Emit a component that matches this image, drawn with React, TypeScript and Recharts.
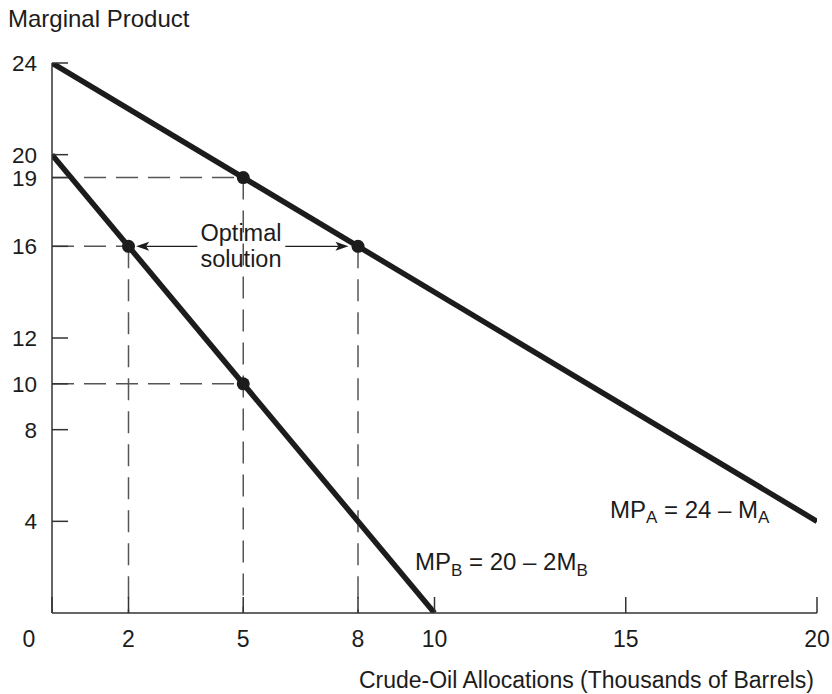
import {
  ComposedChart,
  Customized,
  Line,
  ReferenceLine,
  Scatter,
  XAxis,
  YAxis,
} from "recharts";

const xTicks = [0, 2, 5, 8, 10, 15, 20];
const yTicks = [4, 8, 10, 12, 16, 19, 20, 24];

// MP_A = 24 - M_A, MP_B = 20 - 2M_B (end points)
const mpA = [
  { x: 0, y: 24 },
  { x: 20, y: 4 },
];
const mpB = [
  { x: 0, y: 20 },
  { x: 10, y: 0 },
];

const points = [
  { x: 2, y: 16 },
  { x: 5, y: 19 },
  { x: 8, y: 16 },
  { x: 5, y: 10 },
];

// dashed guides: horizontal from the y axis, vertical down to the x axis
const guidesH = [
  { x: 5, y: 19 },
  { x: 2, y: 16 },
  { x: 5, y: 10 },
];
const guidesV = [
  { x: 2, y: 16 },
  { x: 5, y: 19 },
  { x: 8, y: 16 },
];

// arrows from the "Optimal solution" note to the two points
const arrows = [
  { from: 3.8, to: 2.2, y: 16 },
  { from: 6.1, to: 7.75, y: 16 },
];

const INK = "#1c1c1c";
const GUIDE = "#555";
const FONT = "'Liberation Sans', Arial, Helvetica, sans-serif";

const Arrow = (p: any) => {
  const { x1, y1, x2, y2 } = p;
  const dx = x2 - x1;
  const dy = y2 - y1;
  const len = Math.sqrt(dx * dx + dy * dy) || 1;
  const ux = dx / len;
  const uy = dy / len;
  const bx = x2 - ux * 13;
  const by = y2 - uy * 13;
  const nx = x2 - ux * 10;
  const ny = y2 - uy * 10;
  return (
    <g>
      <line x1={x1} y1={y1} x2={nx} y2={ny} stroke={INK} strokeWidth={1.4} />
      <polygon
        points={`${x2},${y2} ${bx - uy * 4.5},${by + ux * 4.5} ${nx},${ny} ${bx + uy * 4.5},${by - ux * 4.5}`}
        fill={INK}
      />
    </g>
  );
};

const XTick = (p: any) => {
  const v = p.payload.value;
  return (
    <text
      x={p.x + (v === 0 ? -23 : 0)}
      y={p.y}
      dy="0.71em"
      textAnchor="middle"
      fontSize={23}
      fontFamily={FONT}
      fill={INK}
    >
      {v}
    </text>
  );
};

const YTick = (p: any) => (
  <text
    x={p.x}
    y={p.y}
    dy="0.36em"
    textAnchor="end"
    fontSize={22.5}
    fontFamily={FONT}
    fill={INK}
  >
    {p.payload.value}
  </text>
);

const Notes = () => (
  <g fontFamily={FONT} fill={INK}>
    <text x={8} y={27} fontSize={24}>
      Marginal Product
    </text>
    <text x={814} y={688} fontSize={23} textAnchor="end">
      Crude-Oil Allocations (Thousands of Barrels)
    </text>
    <rect x={198} y={219} width={86} height={54} fill="#fff" />
    <text x={241} y={241} fontSize={23.5} textAnchor="middle">
      Optimal
    </text>
    <text x={241} y={267} fontSize={23.5} textAnchor="middle">
      solution
    </text>
    <text x={610} y={518} fontSize={24}>
      MP
      <tspan dy={5} fontSize={17}>
        A
      </tspan>
      <tspan dy={-5}> = 24 – M</tspan>
      <tspan dy={5} fontSize={17}>
        A
      </tspan>
    </text>
    <text x={415} y={570} fontSize={24}>
      MP
      <tspan dy={6} fontSize={17}>
        B
      </tspan>
      <tspan dy={-6}> = 20 – 2M</tspan>
      <tspan dy={6} fontSize={17}>
        B
      </tspan>
    </text>
  </g>
);

export default function App() {
  return (
    <div style={{ position: "absolute", left: 0, top: 0, background: "#fff" }}>
      <ComposedChart
        width={832}
        height={694}
        margin={{ top: 63, right: 15, bottom: 1, left: 0 }}
      >
        <XAxis
          type="number"
          dataKey="x"
          domain={[0, 20]}
          ticks={xTicks}
          interval={0}
          height={80}
          tickSize={-16}
          tickMargin={34}
          tick={XTick}
          stroke="#333"
          strokeWidth={1.5}
          allowDataOverflow
        />
        <YAxis
          type="number"
          dataKey="y"
          domain={[0, 24]}
          ticks={yTicks}
          interval={0}
          width={52}
          tickSize={-16}
          tickMargin={31}
          tick={YTick}
          stroke="#333"
          strokeWidth={1.5}
          allowDataOverflow
        />
        {guidesH.map((g, i) => (
          <ReferenceLine
            key={`h${i}`}
            segment={[
              { x: 0, y: g.y },
              { x: g.x, y: g.y },
            ]}
            stroke={GUIDE}
            strokeWidth={1.5}
            strokeDasharray="22 10"
          />
        ))}
        {guidesV.map((g, i) => (
          <ReferenceLine
            key={`v${i}`}
            segment={[
              { x: g.x, y: g.y },
              { x: g.x, y: 0 },
            ]}
            stroke={GUIDE}
            strokeWidth={1.5}
            strokeDasharray="22 11"
          />
        ))}
        {arrows.map((a, i) => (
          <ReferenceLine
            key={`a${i}`}
            segment={[
              { x: a.from, y: a.y },
              { x: a.to, y: a.y },
            ]}
            shape={Arrow}
          />
        ))}
        <Customized component={Notes} />
        <Line
          data={mpA}
          dataKey="y"
          type="linear"
          stroke={INK}
          strokeWidth={5.5}
          dot={false}
          activeDot={false}
          isAnimationActive={false}
        />
        <Line
          data={mpB}
          dataKey="y"
          type="linear"
          stroke={INK}
          strokeWidth={5.5}
          dot={false}
          activeDot={false}
          isAnimationActive={false}
        />
        <Scatter
          data={points}
          dataKey="y"
          fill={INK}
          shape={(p: any) => <circle cx={p.cx} cy={p.cy} r={6.5} fill={INK} />}
          isAnimationActive={false}
        />
      </ComposedChart>
    </div>
  );
}
